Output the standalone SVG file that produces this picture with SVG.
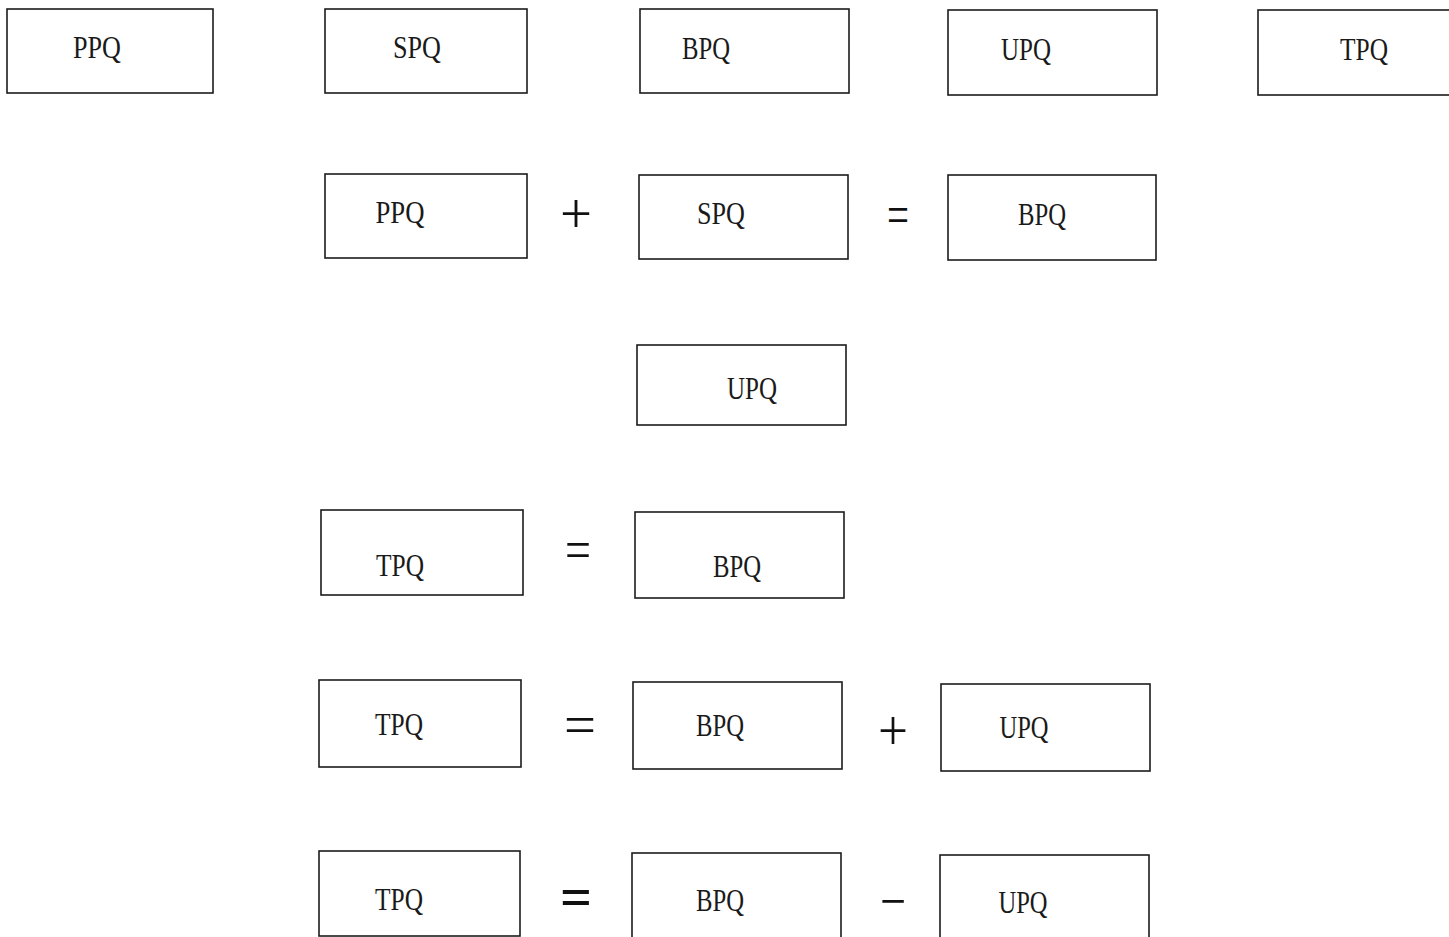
<svg xmlns="http://www.w3.org/2000/svg" width="1449" height="937" viewBox="0 0 1449 937">
  <style>
    .box { fill: none; stroke: #1c1c1c; stroke-width: 1.6; }
    .lbl { font-family: "Liberation Serif", "Times New Roman", serif; font-size: 32px; fill: #1a1a1a; text-anchor: middle; }
    .op { font-family: "Liberation Serif", "Times New Roman", serif; font-size: 56px; fill: #111; text-anchor: middle; }
  </style>
  <rect width="1449" height="937" fill="#ffffff"/>

  <!-- row 1: the five quantities -->
  <g id="r1-ppq"><rect class="box" x="7" y="9" width="206" height="84"/><text class="lbl" x="97" y="58" textLength="48" lengthAdjust="spacingAndGlyphs">PPQ</text></g>
  <g id="r1-spq"><rect class="box" x="325" y="9" width="202" height="84"/><text class="lbl" x="417" y="58" textLength="48" lengthAdjust="spacingAndGlyphs">SPQ</text></g>
  <g id="r1-bpq"><rect class="box" x="640" y="9" width="209" height="84"/><text class="lbl" x="706" y="59" textLength="48" lengthAdjust="spacingAndGlyphs">BPQ</text></g>
  <g id="r1-upq"><rect class="box" x="948" y="10" width="209" height="85"/><text class="lbl" x="1026" y="60" textLength="50" lengthAdjust="spacingAndGlyphs">UPQ</text></g>
  <g id="r1-tpq"><rect class="box" x="1258" y="10" width="200" height="85"/><text class="lbl" x="1364" y="60" textLength="48" lengthAdjust="spacingAndGlyphs">TPQ</text></g>

  <!-- row 2: PPQ + SPQ = BPQ -->
  <g id="r2-ppq"><rect class="box" x="325" y="174" width="202" height="84"/><text class="lbl" x="400" y="223" textLength="49" lengthAdjust="spacingAndGlyphs">PPQ</text></g>
  <g id="r2-spq"><rect class="box" x="639" y="175" width="209" height="84"/><text class="lbl" x="721" y="224" textLength="48" lengthAdjust="spacingAndGlyphs">SPQ</text></g>
  <g id="r2-bpq"><rect class="box" x="948" y="175" width="208" height="85"/><text class="lbl" x="1042" y="225" textLength="48" lengthAdjust="spacingAndGlyphs">BPQ</text></g>

  <!-- row 3 -->
  <g id="r3-upq"><rect class="box" x="637" y="345" width="209" height="80"/><text class="lbl" x="752" y="399" textLength="50" lengthAdjust="spacingAndGlyphs">UPQ</text></g>

  <!-- row 4: TPQ = BPQ -->
  <g id="r4-tpq"><rect class="box" x="321" y="510" width="202" height="85"/><text class="lbl" x="400" y="576" textLength="48" lengthAdjust="spacingAndGlyphs">TPQ</text></g>
  <g id="r4-bpq"><rect class="box" x="635" y="512" width="209" height="86"/><text class="lbl" x="737" y="577" textLength="48" lengthAdjust="spacingAndGlyphs">BPQ</text></g>

  <!-- row 5: TPQ = BPQ + UPQ -->
  <g id="r5-tpq"><rect class="box" x="319" y="680" width="202" height="87"/><text class="lbl" x="399" y="735" textLength="48" lengthAdjust="spacingAndGlyphs">TPQ</text></g>
  <g id="r5-bpq"><rect class="box" x="633" y="682" width="209" height="87"/><text class="lbl" x="720" y="736" textLength="48" lengthAdjust="spacingAndGlyphs">BPQ</text></g>
  <g id="r5-upq"><rect class="box" x="941" y="684" width="209" height="87"/><text class="lbl" x="1024" y="738" textLength="49" lengthAdjust="spacingAndGlyphs">UPQ</text></g>

  <!-- row 6: TPQ = BPQ - UPQ -->
  <g id="r6-tpq"><rect class="box" x="319" y="851" width="201" height="85"/><text class="lbl" x="399" y="910" textLength="48" lengthAdjust="spacingAndGlyphs">TPQ</text></g>
  <g id="r6-bpq"><rect class="box" x="632" y="853" width="209" height="100"/><text class="lbl" x="720" y="911" textLength="48" lengthAdjust="spacingAndGlyphs">BPQ</text></g>
  <g id="r6-upq"><rect class="box" x="940" y="855" width="209" height="100"/><text class="lbl" x="1023" y="913" textLength="49" lengthAdjust="spacingAndGlyphs">UPQ</text></g>

  <!-- operators between the boxes -->
  <g id="operators">
    <text class="op" x="576" y="233" textLength="32" lengthAdjust="spacingAndGlyphs">+</text>
    <text class="op" x="898" y="234" textLength="22" lengthAdjust="spacingAndGlyphs">=</text>
    <text class="op" x="578" y="569" textLength="26" lengthAdjust="spacingAndGlyphs">=</text>
    <text class="op" x="580" y="744" textLength="32" lengthAdjust="spacingAndGlyphs">=</text>
    <text class="op" x="893" y="750" textLength="30" lengthAdjust="spacingAndGlyphs">+</text>
    <text class="op" x="576" y="916" textLength="32" lengthAdjust="spacingAndGlyphs" font-weight="bold">=</text>
    <text class="op" x="893" y="920" textLength="26" lengthAdjust="spacingAndGlyphs">−</text>
  </g>
</svg>
